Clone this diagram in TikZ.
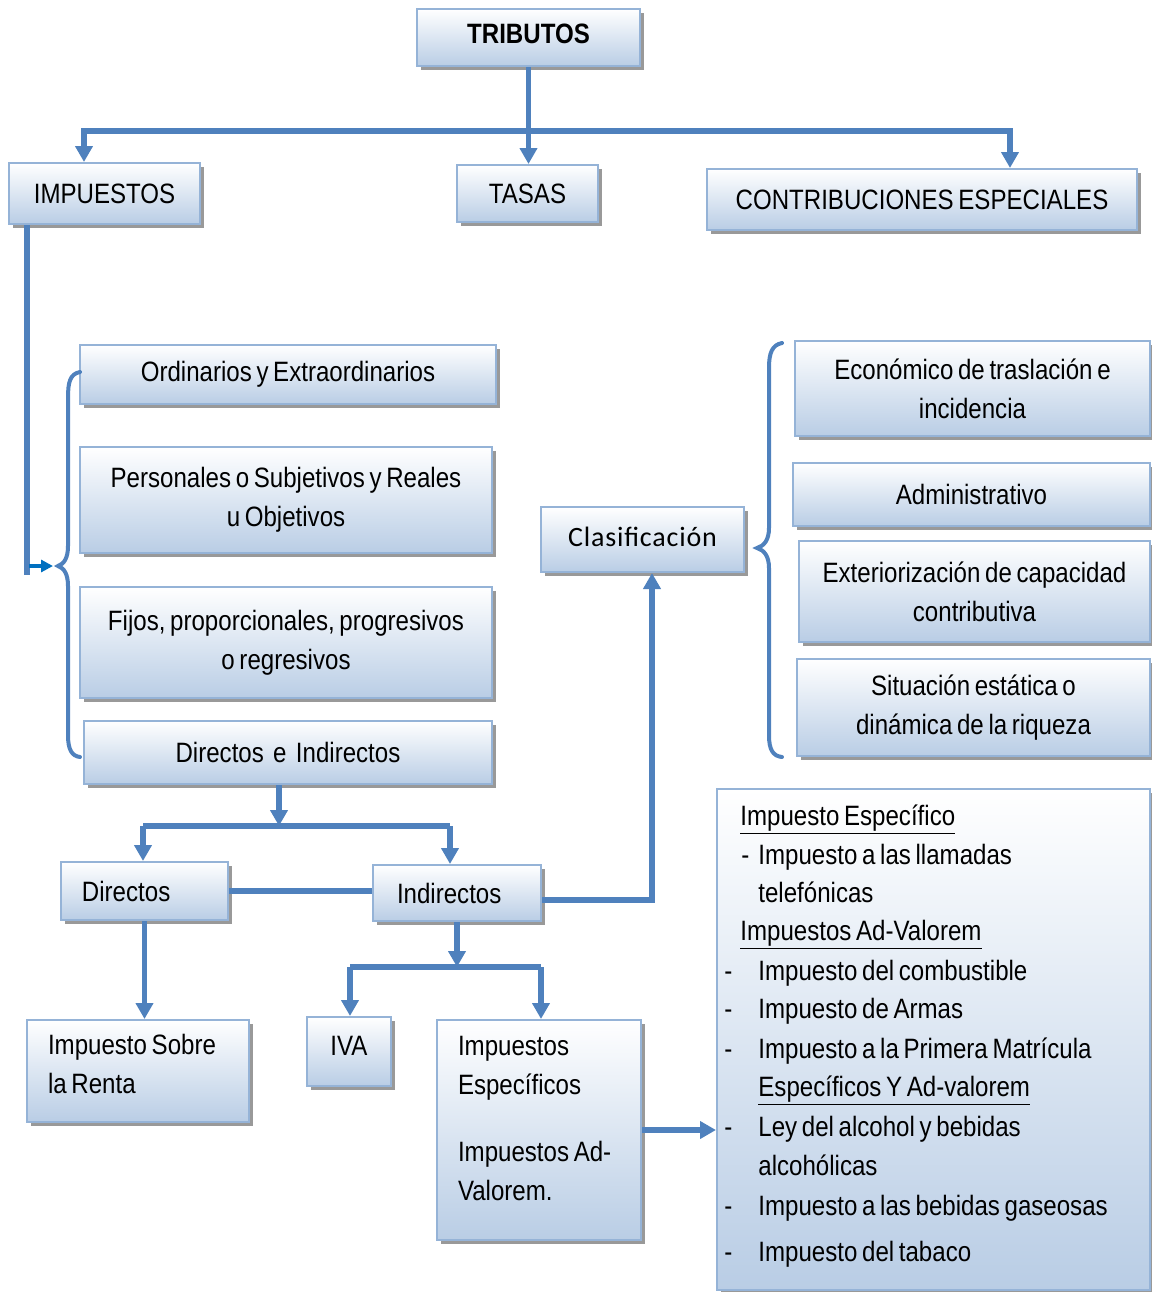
\documentclass[tikz,border=0pt]{standalone}
\usepackage{fontspec}
\newfontfamily\nar[FakeStretch=0.86,WordSpace=0.7]{Liberation Sans}
\newfontfamily\clfont[LetterSpace=3]{Carlito}
\usetikzlibrary{arrows.meta,shadows}
\definecolor{lineblue}{HTML}{4F81BD}
\definecolor{boxborder}{HTML}{95B3D7}
\definecolor{boxbot}{HTML}{B9CDE5}
\definecolor{arrblue}{HTML}{0070C0}
\tikzset{
  box/.style={draw=boxborder, line width=1pt, top color=white, bottom color=boxbot,
    drop shadow={shadow xshift=2.2pt, shadow yshift=-2.2pt, fill=black, opacity=0.4},
    font=\nar\fontsize{14}{19.5}\selectfont, inner sep=0pt, align=center},
  conn/.style={draw=lineblue, line width=2.6pt},
  arr/.style={conn, -{Triangle[width=8.5pt,length=8pt]}},
  brc/.style={draw=lineblue, line width=2pt, line cap=round},
  lt/.style={font=\nar\fontsize{14}{19.5}\selectfont, anchor=base west, inner sep=0pt}
}
\begin{document}
\begin{tikzpicture}[x=0.5pt,y=-0.5pt]
\useasboundingbox (0,0) rectangle (1152,1292);
% boxes
\node[box, minimum width=111.5pt, minimum height=28.5pt, font=\nar\bfseries\fontsize{14}{19.5}\selectfont] (trib) at (528.5,37.5) {\raisebox{4pt}{TRIBUTOS}};
\node[box, minimum width=95.5pt, minimum height=30.5pt] (imp) at (104.5,193.5) {IMPUESTOS};
\node[box, minimum width=70.5pt, minimum height=28.5pt] (tasas) at (527.5,193.5) {TASAS};
\node[box, minimum width=215pt, minimum height=30.5pt] (contrib) at (922,199.5) {CONTRIBUCIONES ESPECIALES};
\node[box, minimum width=208pt, minimum height=29.5pt] (ord) at (288,374.5) {Ordinarios y Extraordinarios};
\node[box, minimum width=206pt, minimum height=53pt] (pers) at (286,500) {Personales o Subjetivos y Reales\\u Objetivos};
\node[box, minimum width=206pt, minimum height=55.5pt] (fijos) at (286,642.5) {Fijos, proporcionales, progresivos\\o regresivos};
\node[box, minimum width=204pt, minimum height=31.5pt] (dirind) at (288,752.5) {Directos\ \ e\ \ Indirectos};
\node[box, minimum width=101.5pt, minimum height=32.5pt, font=\clfont\fontsize{14}{19.5}\selectfont] (clas) at (642.5,539.5) {\raisebox{3pt}{Clasificación}};
\node[box, minimum width=177.5pt, minimum height=47.5pt] (econ) at (972.5,388.5) {Económico de traslación e\\incidencia};
\node[box, minimum width=178.5pt, minimum height=31.5pt] (admin) at (971.5,494.5) {Administrativo};
\node[box, minimum width=175.5pt, minimum height=50.5pt] (ext) at (974.5,591.5) {Exteriorización de capacidad\\contributiva};
\node[box, minimum width=176.5pt, minimum height=48.5pt] (sit) at (973.5,707.5) {Situación estática o\\dinámica de la riqueza};
\node[box, minimum width=83.5pt, minimum height=29pt, align=flush left, text width=62.5pt, inner xsep=10.5pt] (dir) at (144.5,891) {Directos};
\node[box, minimum width=84pt, minimum height=28pt, align=flush left, text width=60pt, inner xsep=12pt] (indir) at (457,893) {Indirectos};
\node[box, minimum width=111pt, minimum height=51pt, align=flush left, text width=90pt, inner xsep=10.5pt] (renta) at (138,1071) {Impuesto Sobre\\la Renta\\[-12.5pt]\mbox{}};
\node[box, minimum width=42pt, minimum height=34.5pt] (iva) at (349,1051.5) {\raisebox{6pt}{IVA}};
\node[box, minimum width=102pt, minimum height=110pt, align=flush left, text width=81pt, inner xsep=10.5pt] (impesp) at (539,1130) {Impuestos\\Específicos\\[14pt]Impuestos Ad-\\Valorem.\\[-7.5pt]\mbox{}};
\node[box, minimum width=216.5pt, minimum height=250.5pt] (list) at (933.5,1039.5) {};
% list text
\node[lt] (l1) at (740,825) {\underline{Impuesto Específico}};
\node[lt] (l2d) at (741,864) {-};
\node[lt] (l2) at (758,864) {Impuesto a las llamadas};
\node[lt] (l3) at (758,902) {telefónicas};
\node[lt] (l4) at (740,940) {\underline{Impuestos Ad-Valorem}};
\node[lt] (l5d) at (724,980) {-};
\node[lt] (l5) at (758,980) {Impuesto del combustible};
\node[lt] (l6d) at (724,1018) {-};
\node[lt] (l6) at (758,1018) {Impuesto de Armas};
\node[lt] (l7d) at (724,1058) {-};
\node[lt] (l7) at (758,1058) {Impuesto a la Primera Matrícula};
\node[lt] (l8) at (758,1096) {\underline{Específicos Y Ad-valorem}};
\node[lt] (l9d) at (724,1136) {-};
\node[lt] (l9) at (758,1136) {Ley del alcohol y bebidas};
\node[lt] (l10) at (758,1175) {alcohólicas};
\node[lt] (l11d) at (724,1215) {-};
\node[lt] (l11) at (758,1215) {Impuesto a las bebidas gaseosas};
\node[lt] (l12d) at (724,1261) {-};
\node[lt] (l12) at (758,1261) {Impuesto del tabaco};
% top connectors
\coordinate (bar) at (528,131);
\coordinate (bl) at (84,131);
\coordinate (br) at (1010,131);
\draw[arr] (trib.south) -- (trib.south |- tasas.north);
\draw[arr] (bar) -- (bl) -- (bl |- imp.north);
\draw[arr] (bar) -- (br) -- (br |- contrib.north);
% impuestos left line and small arrow
\coordinate (il) at (27,575);
\draw[conn] (il |- imp.south) -- (il);
\coordinate (sa1) at (29,566);
\coordinate (sa2) at (53,566);
\draw[draw=arrblue, line width=1.6pt, -{Triangle[width=6pt,length=6pt]}] (sa1) -- (sa2);
% left brace
\draw[brc] (80,372) .. controls (70,374) and (68,382) .. (68,398) -- (68,546)
  .. controls (68,558) and (64,564) .. (58,566) .. controls (64,568) and (68,574) .. (68,586)
  -- (68,735) .. controls (68,750) and (72,756) .. (80,757);
% right brace
\draw[brc] (782,343) .. controls (772,345) and (769,353) .. (769,368) -- (769,528)
  .. controls (769,540) and (764,546) .. (757,548) .. controls (764,550) and (769,556) .. (769,568)
  -- (769,735) .. controls (769,750) and (773,756) .. (782,757);
% directos e indirectos
\coordinate (b2) at (279,826);
\coordinate (d1) at (143,826);
\coordinate (d2) at (450,826);
\draw[conn] (d1) -- (d2);
\draw[arr] (dirind.south -| b2) -- (b2);
\draw[arr] (d1) -- (d1 |- dir.north);
\draw[arr] (d2) -- (d2 |- indir.north);
\draw[conn] (dir.east) -- (dir.east -| indir.west);
\draw[arr] (dir.south) -- (dir.south |- renta.north);
% indirectos
\coordinate (b3) at (457,967);
\coordinate (e1) at (350,967);
\coordinate (e2) at (541,967);
\draw[conn] (e1) -- (e2);
\draw[arr] (indir.south) -- (b3);
\draw[arr] (e1) -- (e1 |- iva.north);
\draw[arr] (e2) -- (e2 |- impesp.north);
\coordinate (k) at (652,900);
\draw[arr] (indir.east |- k) -- (k) -- (k |- clas.south);
\draw[arr] (impesp.east) -- (impesp.east -| list.west);
\end{tikzpicture}
\end{document}
